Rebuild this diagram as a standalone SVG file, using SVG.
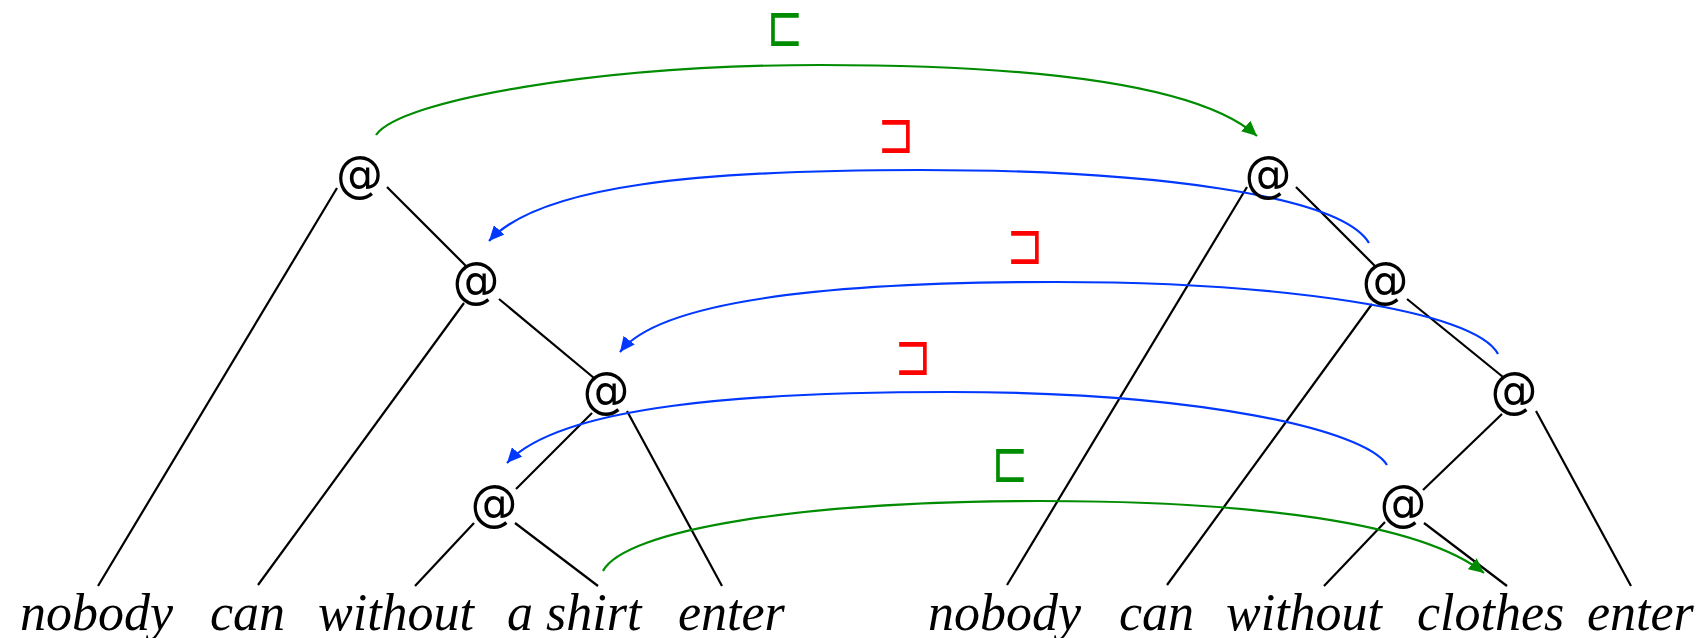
<svg xmlns="http://www.w3.org/2000/svg" width="1706" height="638" viewBox="0 0 1706 638">
<style>
.at{font-family:"DejaVu Sans",sans-serif;font-size:47px;fill:#000;text-anchor:middle}
.word{font-family:"Liberation Serif","Times New Roman",serif;font-style:italic;font-size:52px;fill:#000}
.edge{stroke:#000;stroke-width:2.2;fill:none}
.g{stroke:#008c00;stroke-width:2.2;fill:none}
.b{stroke:#0038ff;stroke-width:2.2;fill:none}
.sym{font-family:"DejaVu Sans",sans-serif;font-size:44px;text-anchor:middle}
</style>
<defs>
<marker id="ag" markerUnits="userSpaceOnUse" markerWidth="16" markerHeight="14" refX="15" refY="7" orient="auto"><path d="M0,0 L15,7 L0,14 z" fill="#008c00"/></marker>
<marker id="ab" markerUnits="userSpaceOnUse" markerWidth="16" markerHeight="14" refX="15" refY="7" orient="auto"><path d="M0,0 L15,7 L0,14 z" fill="#0038ff"/></marker>
</defs>
<rect width="1706" height="638" fill="#fff"/>
<g id="connectors">
<line class="edge" x1="337" y1="188" x2="98" y2="586"/>
<line class="edge" x1="387" y1="187" x2="466" y2="266"/>
<line class="edge" x1="464" y1="303" x2="258" y2="585"/>
<line class="edge" x1="499" y1="299" x2="594" y2="378"/>
<line class="edge" x1="592" y1="413" x2="516" y2="489"/>
<line class="edge" x1="627" y1="411" x2="722" y2="586"/>
<line class="edge" x1="474" y1="523" x2="415" y2="586"/>
<line class="edge" x1="515" y1="523" x2="598" y2="586"/>
<line class="edge" x1="1247" y1="187" x2="1007" y2="585"/>
<line class="edge" x1="1296" y1="187" x2="1375" y2="266"/>
<line class="edge" x1="1372" y1="304" x2="1167" y2="585"/>
<line class="edge" x1="1407" y1="299" x2="1503" y2="377"/>
<line class="edge" x1="1502" y1="414" x2="1423" y2="490"/>
<line class="edge" x1="1536" y1="411" x2="1631" y2="586"/>
<line class="edge" x1="1385" y1="522" x2="1324" y2="586"/>
<line class="edge" x1="1424" y1="523" x2="1507" y2="586"/>
<path class="g" d="M376,135 C400,100 600,65 820,65 C1040,65 1200,85 1257,136" marker-end="url(#ag)"/>
<path class="b" d="M1369,243 C1340,195 1150,170 920,170 C700,170 540,185 489,241" marker-end="url(#ab)"/>
<path class="b" d="M1498,354 C1475,310 1280,282 1055,282 C830,282 660,300 620,352" marker-end="url(#ab)"/>
<path class="b" d="M1387,465 C1365,430 1200,392 950,392 C750,392 560,405 507,463" marker-end="url(#ab)"/>
<path class="g" d="M603,571 C625,530 800,501 1040,501 C1250,501 1420,522 1484,573" marker-end="url(#ag)"/>
</g>
<g id="labels">
<text class="sym" transform="translate(785,46) scale(1,1.33)" fill="#008c00">⊏</text>
<text class="sym" transform="translate(896,153) scale(1,1.33)" fill="#ff0000">⊐</text>
<text class="sym" transform="translate(1025,264) scale(1,1.33)" fill="#ff0000">⊐</text>
<text class="sym" transform="translate(913,375) scale(1,1.33)" fill="#ff0000">⊐</text>
<text class="sym" transform="translate(1010,482) scale(1,1.33)" fill="#008c00">⊏</text>
</g>
<g id="L1"><text class="at" transform="translate(359.5,191) scale(1,1.06)">@</text></g>
<g id="L2"><text class="at" transform="translate(476,297) scale(1,1.06)">@</text></g>
<g id="L3"><text class="at" transform="translate(606,407) scale(1,1.06)">@</text></g>
<g id="L4"><text class="at" transform="translate(494,520) scale(1,1.06)">@</text></g>
<g id="R1"><text class="at" transform="translate(1268,191) scale(1,1.06)">@</text></g>
<g id="R2"><text class="at" transform="translate(1385,297) scale(1,1.06)">@</text></g>
<g id="R3"><text class="at" transform="translate(1514,407) scale(1,1.06)">@</text></g>
<g id="R4"><text class="at" transform="translate(1403,520) scale(1,1.06)">@</text></g>
<g id="w-nobody1"><text class="word" x="20" y="630">nobody</text></g>
<g id="w-can1"><text class="word" x="210" y="630">can</text></g>
<g id="w-without1"><text class="word" x="318" y="630">without</text></g>
<g id="w-ashirt"><text class="word" x="507" y="630">a shirt</text></g>
<g id="w-enter1"><text class="word" x="678" y="630">enter</text></g>
<g id="w-nobody2"><text class="word" x="928" y="630">nobody</text></g>
<g id="w-can2"><text class="word" x="1119" y="630">can</text></g>
<g id="w-without2"><text class="word" x="1226" y="630">without</text></g>
<g id="w-clothes"><text class="word" x="1417" y="630">clothes</text></g>
<g id="w-enter2"><text class="word" x="1587" y="630">enter</text></g>
</svg>
